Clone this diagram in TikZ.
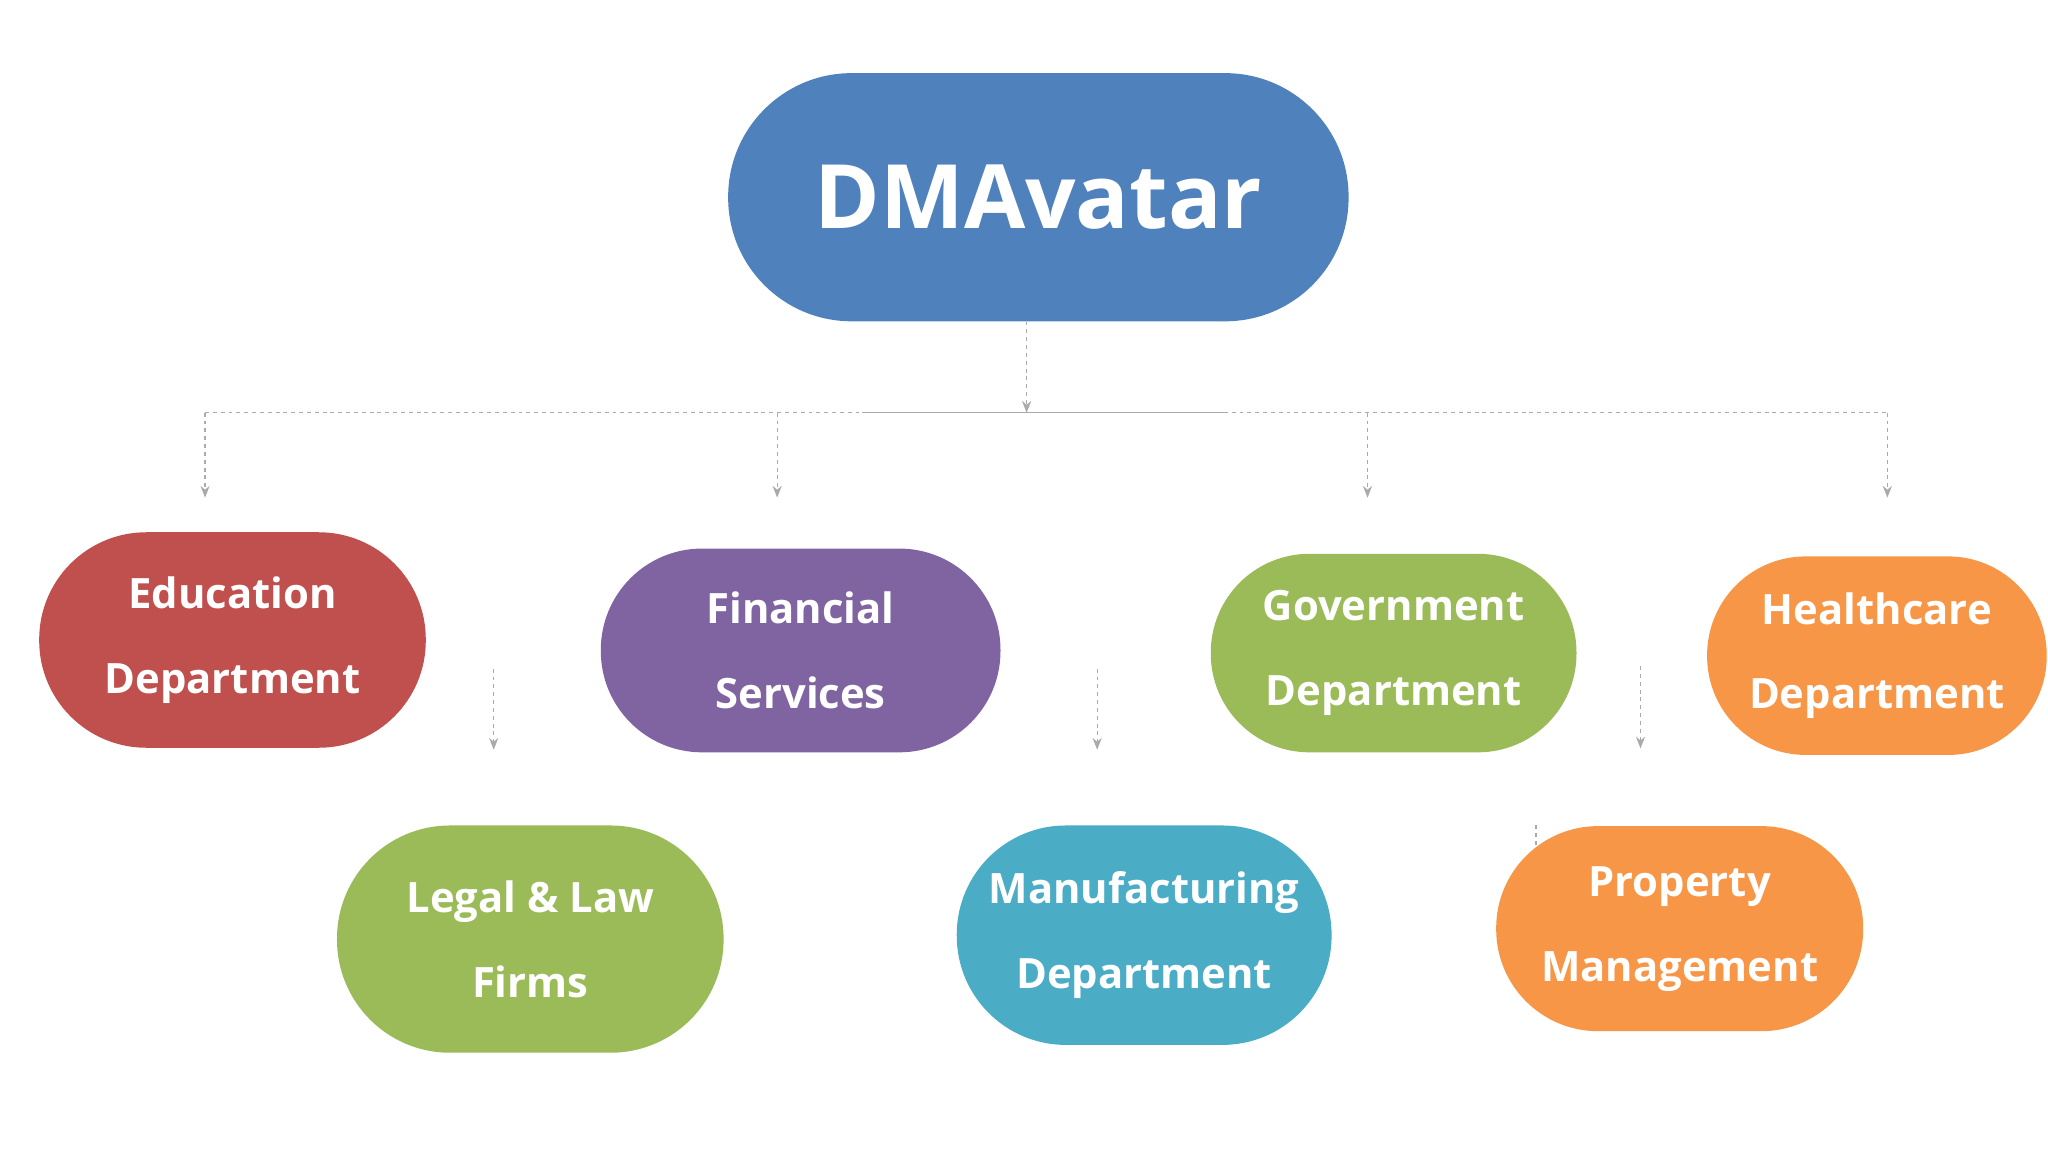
\documentclass[tikz,border=0pt]{standalone}
\usepackage{fontspec}
\setmainfont{Open Sans}
\usetikzlibrary{arrows.meta}
\definecolor{cblue}{HTML}{4F81BD}
\definecolor{cred}{HTML}{C0504D}
\definecolor{cpurple}{HTML}{8064A2}
\definecolor{cgreen}{HTML}{9BBB59}
\definecolor{corange}{HTML}{F79646}
\definecolor{cteal}{HTML}{4BACC6}
\definecolor{cline}{HTML}{AAAAAA}
\tikzset{
  pill/.style n args={3}{draw=none,fill=#1,minimum width=#2,minimum height=#3,rounded corners=#3/2-0.5pt,text=white,align=center,font=\fontsize{32}{65}\selectfont\bfseries,inner sep=0pt},
  conn/.style={draw=cline,dashed,line width=1pt},
  arr/.style={conn,-{Stealth[length=9pt,width=7pt]}}
}
\begin{document}
\begin{tikzpicture}[x=1pt,y=-1pt]
\useasboundingbox (0,0) rectangle (1568,882);
\fill[white] (0,0) rectangle (1568,882);
\node[pill={cblue}{475pt}{190pt},font=\fontsize{68}{70}\selectfont\bfseries] (dm) at (795,151) {DMAvatar};
\node[pill={cred}{296pt}{165pt}] (edu) at (178,490) {Education\\Department};
\node[pill={cpurple}{306pt}{156pt}] (fin) at (613,498) {Financial\\Services};
\node[pill={cgreen}{280pt}{152pt}] (gov) at (1067,500) {Government\\Department};
\node[pill={corange}{260pt}{152pt}] (hc) at (1437,502) {Healthcare\\Department};
\node[pill={cgreen}{296pt}{174pt}] (leg) at (406,719) {Legal \& Law\\Firms};
\node[pill={cteal}{287pt}{168pt}] (man) at (876,716) {Manufacturing\\Department};
\node[pill={corange}{281pt}{157pt}] (pro) at (1286,711) {Property\\Management};
\coordinate (hub) at (786,316);
\coordinate (l1) at (157,316); \coordinate (l1e) at (157,381);
\coordinate (l2) at (595,316); \coordinate (l2e) at (595,381);
\coordinate (l3) at (1047,316); \coordinate (l3e) at (1047,381);
\coordinate (l4) at (1445,316); \coordinate (l4e) at (1445,381);
\draw[arr] (dm.south -| hub) -- (hub);
\draw[conn] (l1) -- (l4);
\draw[draw=cline,line width=1pt] (660,316) -- (940,316);
\draw[arr] (l1) -- (l1e);
\draw[arr] (l2) -- (l2e);
\draw[arr] (l3) -- (l3e);
\draw[arr] (l4) -- (l4e);
\coordinate (a1) at (378,512); \coordinate (a1e) at (378,574);
\coordinate (a2) at (840,512); \coordinate (a2e) at (840,574);
\coordinate (a3) at (1256,510); \coordinate (a3e) at (1256,573);
\coordinate (t1) at (1176,632); \coordinate (t1e) at (1176,650);
\draw[arr] (a1) -- (a1e);
\draw[arr] (a2) -- (a2e);
\draw[arr] (a3) -- (a3e);
\draw[conn] (t1) -- (t1e);
\end{tikzpicture}
\end{document}
